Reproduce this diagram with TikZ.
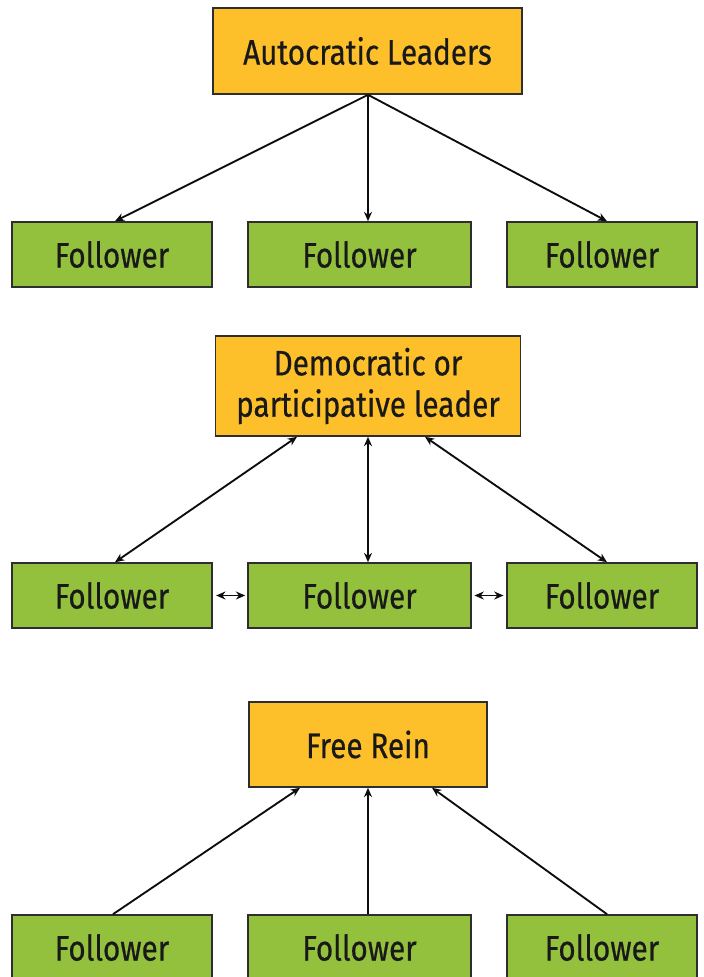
\documentclass[tikz,border=0pt]{standalone}
\usepackage{fontspec}
\setmainfont{Fira Sans}[FakeStretch=0.84, FakeBold=0.5]
\usetikzlibrary{arrows.meta,calc}
\definecolor{leadfill}{HTML}{FDC02A}
\definecolor{followfill}{HTML}{93C13E}
\definecolor{edge}{HTML}{2E2E2E}
\tikzset{
  box/.style={draw=edge, line width=1.2pt, inner sep=0pt, align=center,
    font=\fontsize{26.5}{31}\selectfont, text=black!90},
  leaderbox/.style={box, fill=leadfill},
  followerbox/.style={box, fill=followfill, minimum height=48.75pt},
  link/.style={draw=black!95, line width=1.4pt},
  tip/.style={-{Stealth[length=7pt,width=6pt]}},
  bothtips/.style={{Stealth[length=7pt,width=6pt]}-{Stealth[length=7pt,width=6pt]}},
}
\begin{document}
\begin{tikzpicture}[x=0.75pt, y=-0.75pt]
\useasboundingbox (0,0) rectangle (703,977);

% Autocratic: one-way links from leader to followers
\node[leaderbox, minimum width=231.75pt, minimum height=64.5pt] (auto) at (367.5,51) {Autocratic Leaders};
\node[followerbox, minimum width=150pt]    (a1) at (112,254.5) {Follower};
\node[followerbox, minimum width=167.25pt] (a2) at (359.5,254.5) {Follower};
\node[followerbox, minimum width=142.5pt]  (a3) at (602,254.5) {Follower};
\coordinate (autofoot) at ($(auto.south)+(0.5,0)$);
\coordinate (a2top) at (autofoot |- a2.north);
\draw[link, tip] (autofoot) -- ($(a1.north)+(3,0)$);
\draw[link, tip] (autofoot) -- (a2top);
\draw[link, tip] (autofoot) -- ($(a3.north)+(5,0)$);

% Democratic: two-way links, followers linked to each other
\node[leaderbox, minimum width=228.75pt, minimum height=75pt] (dem) at (368,386) {Democratic or\\participative leader};
\node[followerbox, minimum width=150pt]    (d1) at (112,595.5) {Follower};
\node[followerbox, minimum width=167.25pt] (d2) at (359.5,595.5) {Follower};
\node[followerbox, minimum width=142.5pt]  (d3) at (602,595.5) {Follower};
\coordinate (d2top) at (dem.south |- d2.north);
\draw[link, bothtips] ($(dem.south)+(-71,0)$) -- ($(d1.north)+(3,0)$);
\draw[link, bothtips] (dem.south) -- (d2top);
\draw[link, bothtips] ($(dem.south)+(57,0)$) -- ($(d3.north)+(5,0)$);
\draw[link, bothtips, shorten <=2.5pt, shorten >=1.5pt] (d1.east) -- (d2.west);
\draw[link, bothtips, shorten <=2pt, shorten >=2pt] (d2.east) -- (d3.west);

% Free rein: links run from followers up to the leader
\node[leaderbox, minimum width=178.5pt, minimum height=63.75pt] (free) at (368,744.5) {Free Rein};
\node[followerbox, minimum width=150pt]    (r1) at (112,947.5) {Follower};
\node[followerbox, minimum width=167.25pt] (r2) at (359.5,947.5) {Follower};
\node[followerbox, minimum width=142.5pt]  (r3) at (602,947.5) {Follower};
\coordinate (r2top) at (free.south |- r2.north);
\draw[link, tip] ($(r1.north)+(1,0)$) -- ($(free.south)+(-68,0)$);
\draw[link, tip] (r2top) -- (free.south);
\draw[link, tip] ($(r3.north)+(5,0)$) -- ($(free.south)+(64,0)$);
\end{tikzpicture}
\end{document}
